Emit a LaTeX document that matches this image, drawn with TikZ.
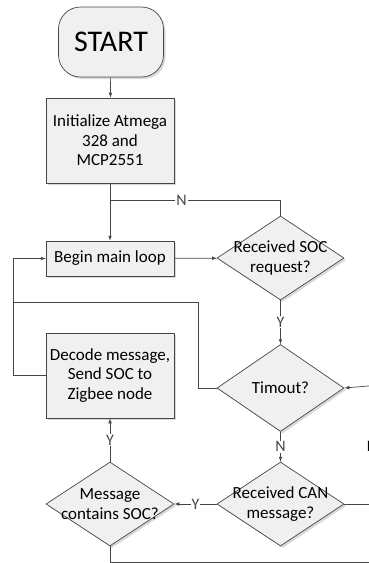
\documentclass[tikz,border=0pt]{standalone}
\usepackage{fontspec}
\setmainfont{Carlito}
\usepackage{tikz}
\usetikzlibrary{shapes.geometric, arrows, positioning, shadows}
\definecolor{linegray}{RGB}{70,70,70}
\definecolor{boxfill}{RGB}{240,240,240}

\begin{document}
\begin{tikzpicture}[x=1pt, y=-1pt,
    box/.style={rectangle, draw=linegray, fill=boxfill, line width=0.7pt, minimum height=85pt, minimum width=128pt, align=center, inner sep=2pt, font=\fontsize{17}{19.5}\selectfont, drop shadow={shadow xshift=2pt, shadow yshift=-2pt, fill=gray!60}},
    dec/.style={diamond, draw=linegray, fill=boxfill, line width=0.7pt, minimum width=127pt, minimum height=84pt, inner sep=0pt, drop shadow={shadow xshift=2pt, shadow yshift=-2pt, fill=gray!60}},
    dectext/.style={align=center, inner sep=0pt, font=\fontsize{17}{19.5}\selectfont},
    lbl/.style={fill=white, inner sep=1pt, font=\fontsize{16}{16}\selectfont},
    arrow/.style={-latex, line width=0.7pt, linegray},
    line/.style={line width=0.7pt, linegray}
]
    \useasboundingbox (0,0) rectangle (368,563);

    % Start
    \node[box, rounded corners=22pt, minimum width=105pt, minimum height=70pt, font=\fontsize{30}{32}\selectfont] (start) at (111,42) {START};

    % Initialization
    \node[box] (init) at (110,140.5) {Initialize Atmega\\328 and\\MCP2551};

    % Main loop
    \node[box, minimum height=35pt] (loop) at (110,258.5) {Begin main loop};

    % Decisions
    \node[dec, label={[dectext]center:Received SOC\\request?}] (soc) at (280.5,258) {};
    \node[dec, minimum height=87pt, label={[dectext]center:Timout?}] (timeout) at (280.5,388) {};
    \node[dec, label={[dectext]center:Received CAN\\message?}] (can) at (280.5,504) {};
    \node[dec, minimum width=128pt, label={[dectext]center:Message\\contains SOC?}] (msg) at (110,504) {};

    % Decode and send
    \node[box] (decode) at (110,375.5) {Decode message,\\Send SOC to\\Zigbee node};

    % Junctions and loose ends
    \coordinate (merge) at (110,200);
    \coordinate (rail) at (14,302);
    \coordinate (tin) at (380,385);
    \coordinate (canout) at (380,504);
    \coordinate (bottomout) at (380,562);

    % Arrows
    \draw[arrow] (start) -- (init);
    \draw[arrow] (init) -- (loop);
    \draw[line] (soc.north) |- node[lbl, pos=0.79] {N} (merge);
    \draw[arrow] (loop) -- (soc);
    \draw[arrow] (soc) -- node[lbl] {Y} (timeout);
    \draw[line] (timeout.west) -- ++(-18,0) |- (rail);
    \draw[arrow] (decode.west) -- ++(-32,0) |- (loop.west);
    \draw[arrow] (tin) -- (timeout.east);
    \draw[arrow] (timeout) -- node[lbl] {N} (can);
    \draw[arrow] (can) -- node[lbl] {Y} (msg);
    \draw[line] (can.east) -- (canout);
    \draw[arrow] (msg) -- node[lbl] {Y} (decode);
    \draw[line] (msg.south) |- (bottomout);

    % Cut-off label at the edge
    \node[lbl, fill=none] (nright) at (372,446) {N};

\end{tikzpicture}
\end{document}
